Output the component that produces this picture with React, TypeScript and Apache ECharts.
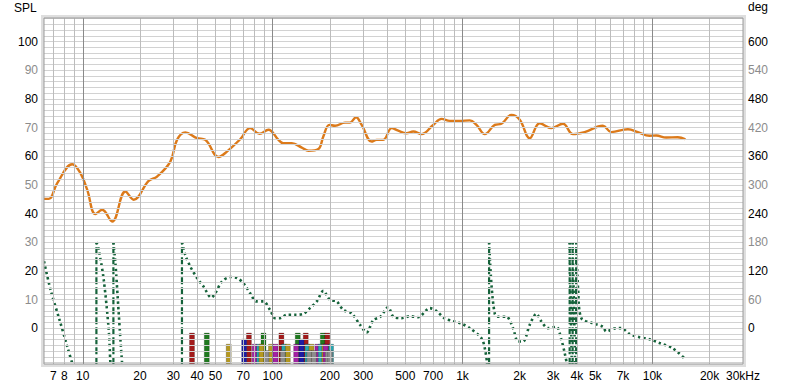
import React, { useEffect, useRef } from 'react';
import * as echarts from 'echarts';

// ---- SPL curve (Hz, dB) ----
const splFreqs = [6.25, 6.63, 7.34, 8.8, 9.72, 10.55, 11.66, 12.65, 14.28, 16.77, 18.54, 22.23, 24.62, 28.92, 31.36, 34.67, 39.96, 44.18, 51.9, 57.43, 67.49, 76.15, 85.22, 95.04, 107.3, 114, 126.2, 142.4, 154.3, 174.1, 184.9, 198.9, 213.1, 240.5, 255.6, 274.8, 294.4, 332.3, 353.1, 382.4, 423.4, 458.6, 507.6, 550, 608.5, 700.5, 775.7, 857.6, 968.5, 1092, 1185, 1310, 1479, 1603, 1810, 2001, 2259, 2549, 2938, 3380, 3815, 4396, 5486, 6073, 7427, 8382, 9656, 10470, 11820, 13600, 14930];
const splLevels = [45.1, 45.1, 50.6, 57.2, 54.1, 48.3, 39.8, 41.3, 37.2, 47.7, 44.8, 51.4, 52.9, 58.1, 65.7, 68.3, 66.3, 65.7, 59.7, 61.6, 65.9, 69.8, 67.8, 69.2, 65.7, 64.5, 64.5, 63.0, 61.9, 62.5, 66.9, 70.9, 70.6, 71.7, 71.7, 73.6, 70.9, 65.1, 65.7, 65.7, 69.8, 68.9, 68.0, 68.6, 67.7, 70.9, 73.0, 72.3, 72.3, 72.5, 70.9, 67.7, 70.9, 71.3, 74.4, 72.7, 66.3, 71.5, 69.8, 71.3, 67.7, 68.4, 70.6, 68.4, 69.4, 68.4, 67.1, 67.2, 66.5, 66.6, 65.9];

// ---- Phase curve (Hz, deg); null separates wrapped segments ----
const phaseFreqs = [
  6.25, 6.77, 7.55, 8.28, 8.8, 10.33, 11.8, null,
  11.8, 12.14, 12.9, 13.7, 13.98, 14.5, null,
  14.5, 14.86, 15.46, 16.11, 16.77, 22, 30, 33.3, null,
  33.3, 34.67, 36.84, 39.96, 43.27, 47.51, 49.86, 54.07, 59.78, 64.83, 70.23, 76.15, 81.9, 89.44, 97.0, 103.1, 109.5, 118.8, 131.3, 145.2, 157.4, 170.8, 185.0, 200.6, 217.5, 235.6, 260.9, 288.4, 312.8, 338.8, 367.5, 406.3, 431.6, 477.9, 528.4, 584.1, 673.2, 730, 807.1, 892.5, 1007, 1092, 1259, 1310, 1347, 1380, null,
  1380, 1421, 1479, 1539, 1703, 1845, 1960, 2083, 2259, 2449, 2603, 2819, 3121, 3315, 3451, 3592, 3666, null,
  3666, 3801, null,
  3801, 3966, null,
  3977, 4064, 4224, 4861, 5486, 5716, 6452, 6855, 7579, 8553, 9656, 10900, 12800, 14750
];
const phaseDegs = [
  140, 80, 17, -38, -73, -150, -180, null,
  180, 164, 101, -3.5, -73, -180, null,
  180, 136, 32, -73, -150, -170, -176, -180, null,
  180, 153, 129, 105, 87, 64, 73, 97.6, 107, 105, 94, 73, 56, 56, 38, 21, 21, 28, 28, 30, 42, 56, 78, 59, 56, 38, 31, 7, -9, 17, 23, 44, 24, 21, 25, 23, 42, 36, 20, 15, 8, 0, -21, -42, -75, -180, null,
  180, 90, 30, 24, 24, 0, -28, -28, 7, 30, 14, 0, 3, -24, -52, -90, -180, null,
  180, -180, null,
  180, -180, null,
  180, 80, 21, 10, 3, -7, 0, 0, -12, -19, -23, -31, -42, -63
];
const wrapFreqs = [11.8, 14.5, 33.3, 1380, 3666, 3801, 3966];

// ---- Mode bars (Hz, dB level top, colour) ----
const modeFreqs = [37.6, 45.0, 75.0, 89.5, 111.2, 135.6, 149.4, 183.7, 194, 70.8, 142, 58.7, 80.4, 84.9, 87.3, 98, 103.5, 114.8, 120.2, 133, 152.5, 160, 172, 179, 187, 190, 203, 92.7, 113, 156, 165, 195, 201];
const modeLevels = [-1.7, -1.7, -1.7, -1.7, -1.7, -1.7, -1.7, -1.7, -1.7, -3.8, -3.8, -5.6, -5.6, -5.6, -5.6, -5.6, -5.6, -5.6, -5.6, -5.6, -5.6, -5.6, -5.6, -5.6, -5.6, -5.6, -5.6, -7.8, -7.8, -7.8, -7.8, -7.8, -7.8];
const modeColors = ['#a31b1b', '#1f7a1f', '#a31b1b', '#1f7a1f', '#a31b1b', '#1f7a1f', '#a31b1b', '#1f7a1f', '#a31b1b', '#1c1ca3', '#1c1ca3', '#b4981f', '#a321a3', '#27a6b0', '#b4981f', '#b4981f', '#a321a3', '#27a6b0', '#b4981f', '#a321a3', '#27a6b0', '#b4981f', '#a321a3', '#27a6b0', '#b4981f', '#a321a3', '#27a6b0', '#8c8c8c', '#8c8c8c', '#8c8c8c', '#8c8c8c', '#8c8c8c', '#8c8c8c'];

// ---- Axes ----
const xTickValues = [7, 8, 10, 20, 30, 40, 50, 70, 100, 200, 300, 500, 700, 1000, 2000, 3000, 4000, 5000, 7000, 10000, 20000, 30000];
const xTickLabels = ['7', '8', '10', '20', '30', '40', '50', '70', '100', '200', '300', '500', '700', '1k', '2k', '3k', '4k', '5k', '7k', '10k', '20k', '30kHz'];
const xGridMinor = [7, 8, 9, 20, 30, 40, 50, 60, 70, 80, 90, 200, 300, 400, 500, 600, 700, 800, 900, 2000, 3000, 4000, 5000, 6000, 7000, 8000, 9000, 20000];
const xGridMajor = [10, 100, 1000, 10000];
const splTicks = [0, 10, 20, 30, 40, 50, 60, 70, 80, 90, 100];
const degTicks = [0, 60, 120, 180, 240, 300, 360, 420, 480, 540, 600];
const hGridValues = [-12, -10, -8, -6, -4, -2, 0, 2, 4, 6, 8, 10, 12, 14, 16, 18, 20, 22, 24, 26, 28, 30, 32, 34, 36, 38, 40, 42, 44, 46, 48, 50, 52, 54, 56, 58, 60, 62, 64, 66, 68, 70, 72, 74, 76, 78, 80, 82, 84, 86, 88, 90, 92, 94, 96, 98, 100, 102, 104, 106, 108];

const X_MIN = 6.25, X_MAX = 30000;
const Y_MIN = -12.5, Y_MAX = 108.2;
const FONT = "'Liberation Sans', Arial, sans-serif";
const PHASE_COLOR = '#15623a';

export default function App() {
  const ref = useRef<HTMLDivElement>(null);
  useEffect(() => {
    if (!ref.current) return;
    const chart = echarts.init(ref.current, undefined, { renderer: 'svg' });
    const L = 44, T = 18, W = 699, H = 346;
    const labelMap: Record<string, string> = {};
    xTickValues.forEach((v, i) => (labelMap[String(v)] = xTickLabels[i]));

    const gridLines: any[] = [
      ...hGridValues.map((v) => ({ yAxis: v, lineStyle: { color: '#d2d2d2', width: 1, type: 'solid' } })),
      ...xGridMinor.map((v) => ({ xAxis: v, lineStyle: { color: '#bcbcbc', width: 1, type: 'solid' } })),
      ...xGridMajor.map((v) => ({ xAxis: v, lineStyle: { color: '#8a8a8a', width: 1, type: 'solid' } })),
    ];

    const phaseData = phaseFreqs.map((f, i) => (f === null || phaseDegs[i] === null ? ['-', '-'] : [f, phaseDegs[i]]));
    const wrapData: any[] = [];
    wrapFreqs.forEach((f) => {
      wrapData.push([f, -180], [f, 180], ['-', '-']);
    });

    chart.setOption({
      animation: false,
      backgroundColor: '#ffffff',
      textStyle: { fontFamily: FONT },
      grid: { left: L, top: T, width: W, height: H, containLabel: false },
      xAxis: {
        type: 'log',
        logBase: 10,
        min: X_MIN,
        max: X_MAX,
        axisLine: { show: false },
        axisTick: { show: false },
        splitLine: { show: false },
        axisLabel: {
          customValues: xTickValues,
          formatter: (v: number) => labelMap[String(Math.round(v))] ?? '',
          color: '#000',
          fontSize: 12,
          fontFamily: FONT,
          margin: 6,
          showMinLabel: true,
          showMaxLabel: true,
        },
      },
      yAxis: [
        {
          type: 'value',
          min: Y_MIN,
          max: Y_MAX,
          axisLine: { show: false },
          axisTick: { show: false },
          splitLine: { show: false },
          axisLabel: {
            customValues: splTicks,
            color: (v: any) => (Math.round(Number(v)) % 20 === 0 ? '#000' : '#8c8c8c'),
            fontSize: 12,
            fontFamily: FONT,
            margin: 6,
          },
        },
        {
          type: 'value',
          min: Y_MIN * 6,
          max: Y_MAX * 6,
          position: 'right',
          axisLine: { show: false },
          axisTick: { show: false },
          splitLine: { show: false },
          axisLabel: {
            customValues: degTicks,
            color: (v: any) => (Math.round(Number(v)) % 120 === 0 ? '#000' : '#8c8c8c'),
            fontSize: 12,
            fontFamily: FONT,
            margin: 5,
          },
        },
      ],
      graphic: [
        { type: 'text', left: 14, top: 2, style: { text: 'SPL', font: `12px ${FONT}`, fill: '#000' } },
        { type: 'text', left: 748, top: 1, style: { text: 'deg', font: `12px ${FONT}`, fill: '#000' } },
        { type: 'rect', shape: { x: L - 1.5, y: T - 1.5, width: W + 3, height: H + 3 }, style: { fill: 'none', stroke: '#dedede', lineWidth: 3 }, z: 100, silent: true },
        { type: 'rect', shape: { x: L, y: T, width: W, height: H }, style: { fill: 'none', stroke: '#9a9a9a', lineWidth: 1 }, z: 101, silent: true },
      ],
      series: [
        {
          type: 'line',
          data: [],
          z: 0,
          silent: true,
          markLine: { silent: true, symbol: 'none', label: { show: false }, animation: false, data: gridLines },
        },
        {
          type: 'custom',
          z: 2,
          data: modeFreqs.map((f, i) => [f, modeLevels[i], i]),
          renderItem: (params: any, api: any) => {
            const f = api.value(0);
            const lv = api.value(1);
            const idx = api.value(2);
            const top = api.coord([f, lv]);
            const bot = api.coord([f, Y_MIN]);
            const w = 5;
            return {
              type: 'rect',
              shape: { x: top[0] - w / 2, y: top[1], width: w, height: bot[1] - top[1] },
              style: { fill: modeColors[idx], stroke: 'rgba(0,0,0,0.35)', lineWidth: 0.6 },
            };
          },
        },
        {
          type: 'line',
          yAxisIndex: 1,
          z: 3,
          data: wrapData,
          showSymbol: false,
          connectNulls: false,
          lineStyle: { color: PHASE_COLOR, width: 2.2, type: [7, 3] },
        },
        {
          type: 'line',
          yAxisIndex: 1,
          z: 3,
          data: phaseData,
          smooth: 0.3,
          showSymbol: false,
          connectNulls: false,
          lineStyle: { color: PHASE_COLOR, width: 2.6, type: [2.4, 3] },
        },
        {
          type: 'line',
          z: 4,
          data: splFreqs.map((f, i) => [f, splLevels[i]]),
          smooth: 0.4,
          showSymbol: false,
          lineStyle: { color: '#dc7a1a', width: 2.4, type: 'solid' },
        },
      ],
    });
    return () => chart.dispose();
  }, []);
  return <div ref={ref} style={{ position: 'fixed', left: 0, top: 0, width: 800, height: 389 }} />;
}
